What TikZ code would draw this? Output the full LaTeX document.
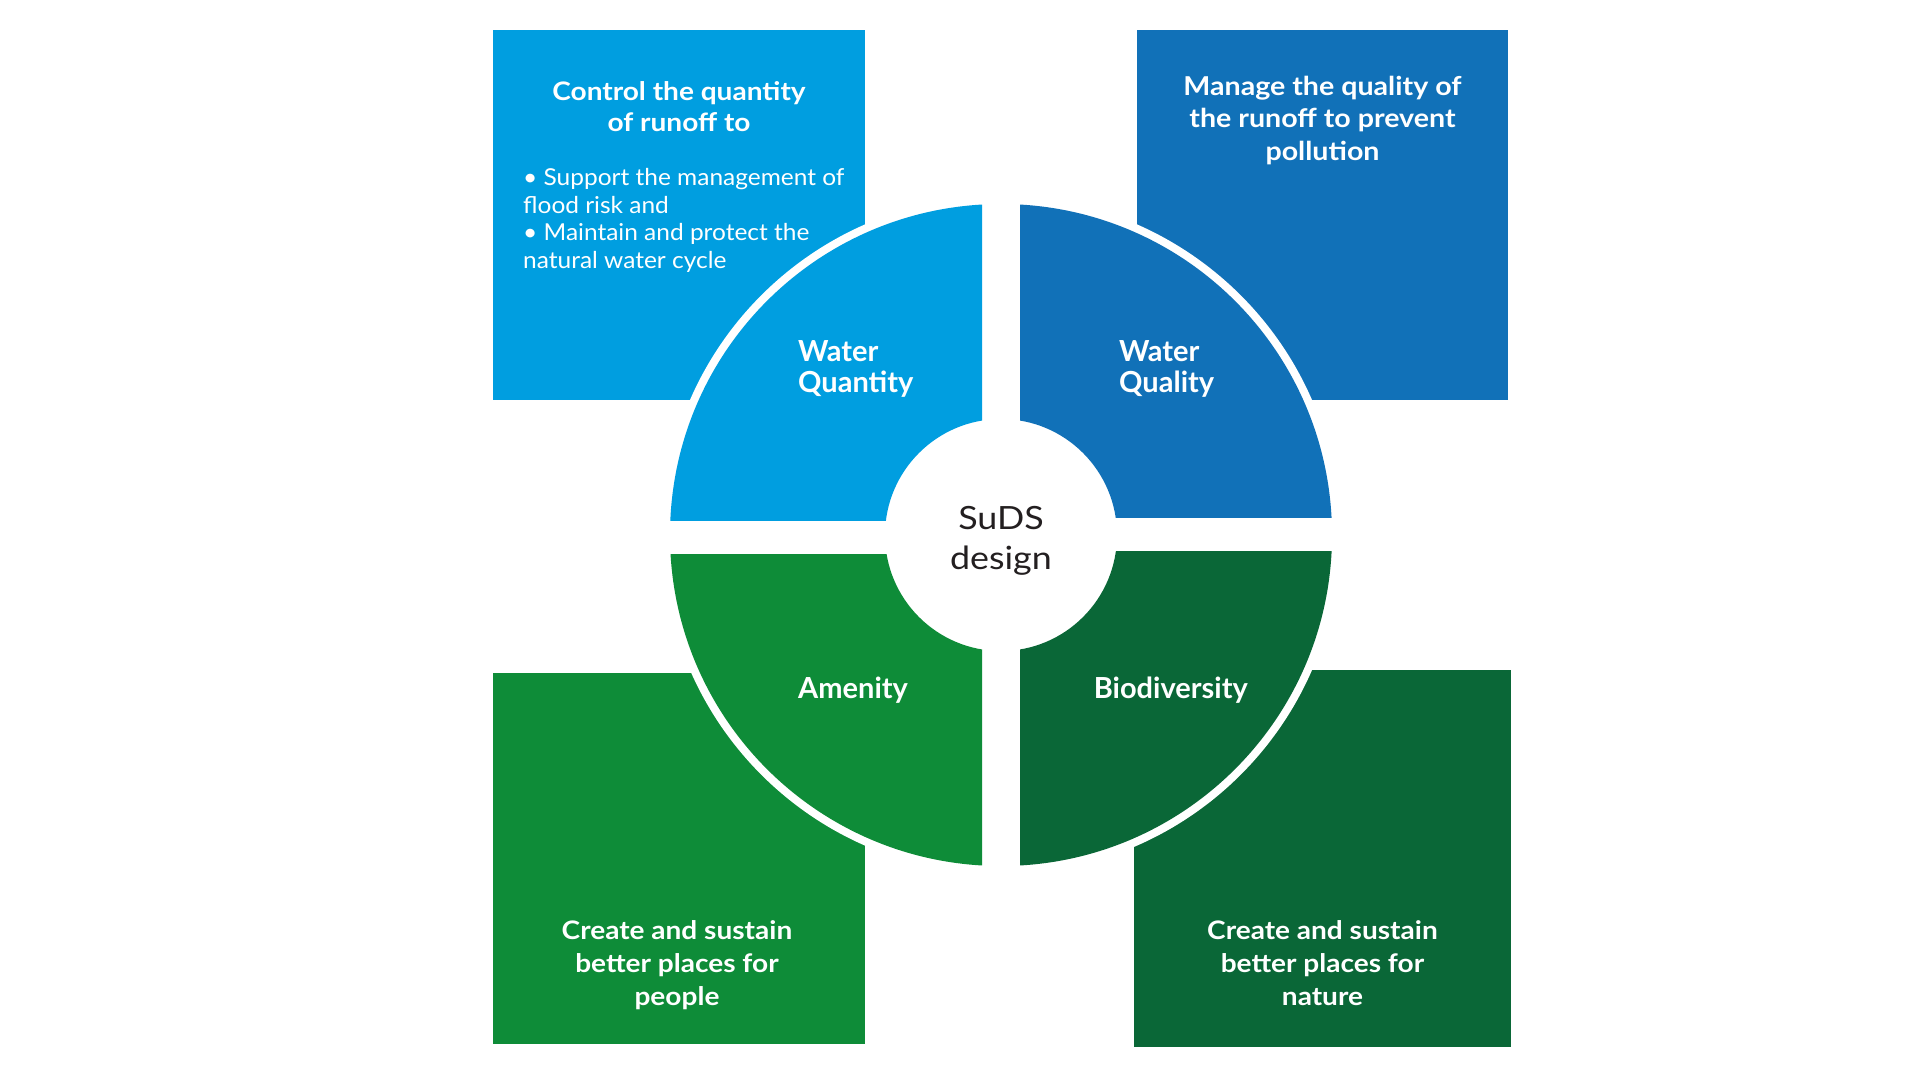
\documentclass[tikz,border=0pt]{standalone}
\usepackage{fontspec}
\setmainfont{Lato}
\newfontfamily\headfont{Lato}[FakeStretch=1.1]
\newfontfamily\bodyfont{Lato}[FakeStretch=1.05]
\newfontfamily\hubfont{Lato}[FakeStretch=1.12]
\definecolor{cTL}{RGB}{0,158,224}
\definecolor{cTR}{RGB}{17,113,184}
\definecolor{cBL}{RGB}{14,140,56}
\definecolor{cBR}{RGB}{10,103,55}
\definecolor{ink}{RGB}{35,31,32}
\tikzset{
  box/.style={rectangle, draw=none, inner sep=0pt, outer sep=0pt},
  head/.style={text=white, inner sep=0pt, align=center, font=\headfont\bfseries\fontsize{25.5pt}{31pt}\selectfont},
  body/.style={text=white, inner sep=0pt, align=left, font=\bodyfont\fontsize{23.3pt}{27.7pt}\selectfont},
  qlabel/.style={text=white, inner sep=0pt, align=left, font=\bfseries\fontsize{29pt}{31.5pt}\selectfont},
  hub/.style={text=ink, inner sep=0pt, align=center, font=\hubfont\fontsize{32pt}{40pt}\selectfont}
}
\begin{document}
\begin{tikzpicture}[x=1pt,y=-1pt]
\useasboundingbox (0,0) rectangle (1920,1080);
% corner boxes
\node[box, fill=cTL, minimum width=372pt, minimum height=370pt] (boxTL) at (679,215) {};
\node[box, fill=cTR, minimum width=371pt, minimum height=370pt] (boxTR) at (1322.5,215) {};
\node[box, fill=cBL, minimum width=372pt, minimum height=371pt] (boxBL) at (679,858.5) {};
\node[box, fill=cBR, minimum width=377pt, minimum height=377pt] (boxBR) at (1322.5,858.5) {};
% wheel
\coordinate (c) at (1001,535);
\fill[white] (c) circle[radius=339pt];
\begin{scope}
  \clip (600,150) rectangle (982,520);
  \fill[cTL, even odd rule] (c) circle[radius=331pt] (c) circle[radius=116pt];
\end{scope}
\begin{scope}
  \clip (1020,150) rectangle (1400,517);
  \fill[cTR, even odd rule] (c) circle[radius=331pt] (c) circle[radius=116pt];
\end{scope}
\begin{scope}
  \clip (600,554) rectangle (982,920);
  \fill[cBL, even odd rule] (c) circle[radius=331pt] (c) circle[radius=116pt];
\end{scope}
\begin{scope}
  \clip (1020,551) rectangle (1400,920);
  \fill[cBR, even odd rule] (c) circle[radius=331pt] (c) circle[radius=116pt];
\end{scope}
% box texts
\node[head, anchor=north] (tTL) at (679,81) {Control the quantity\\of runoff to};
\node[body, anchor=north west] (bTL) at (523,168) {• Support the management of\\flood risk and\\• Maintain and protect the\\natural water cycle};
\node[head, anchor=north, font=\headfont\bfseries\fontsize{26pt}{32.5pt}\selectfont] (tTR) at (1322.5,75.5) {Manage the quality of\\the runoff to prevent\\pollution};
\node[head, anchor=north, font=\headfont\bfseries\fontsize{25.5pt}{33pt}\selectfont] (tBL) at (677,920.5) {Create and sustain\\better places for\\people};
\node[head, anchor=north, font=\headfont\bfseries\fontsize{25.5pt}{33pt}\selectfont] (tBR) at (1322.5,920.5) {Create and sustain\\better places for\\nature};
% wheel labels
\node[qlabel, anchor=north west] (qTL) at (798,340) {Water\\Quantity};
\node[qlabel, anchor=north west] (qTR) at (1119,340) {Water\\Quality};
\node[qlabel, anchor=base west] (qBL) at (798,698) {Amenity};
\node[qlabel, anchor=base west] (qBR) at (1093.6,698) {Biodiversity};
\node[hub, anchor=north] (hub) at (1001,506) {SuDS\\design};
\end{tikzpicture}
\end{document}
